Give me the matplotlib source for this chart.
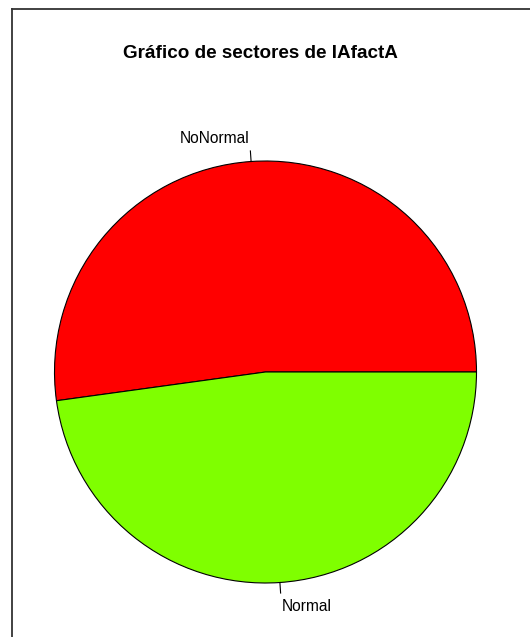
import matplotlib
matplotlib.use("Agg")
import matplotlib.pyplot as plt
import numpy as np
from matplotlib.lines import Line2D

categories = ["NoNormal", "Normal"]
counts = [12, 11]
colors = ["#FF0000", "#7FFF00"]
title = "Gráfico de sectores de IAfactA"

W, H = 530, 637
fig = plt.figure(figsize=(W / 100, H / 100), dpi=100)
plt.rcParams['font.family'] = ['Liberation Sans', 'DejaVu Sans']
ax = fig.add_axes([0, 0, 1, 1])
ax.set_xlim(0, W)
ax.set_ylim(0, H)
ax.axis("off")

cx, cy, r = 265.5, H - 372, 211
wedges, _ = ax.pie(counts, colors=colors, startangle=0, counterclock=True,
                   center=(cx, cy), radius=r, frame=True,
                   wedgeprops=dict(edgecolor="black", linewidth=0.8))
ax.set_xlim(0, W)
ax.set_ylim(0, H)
ax.set_aspect("equal")
ax.axis("off")

total = sum(counts)
start = 0.0
for lab, v in zip(categories, counts):
    mid = np.deg2rad((start + v / total * 360 / 2) if False else start + v / total * 180)
    start += v / total * 360
    ca, sa = np.cos(mid), np.sin(mid)
    ax.plot([cx + r * ca, cx + 1.05 * r * ca], [cy + r * sa, cy + 1.05 * r * sa],
            color="black", lw=0.8)
    ax.text(cx + 1.1 * r * ca, cy + 1.1 * r * sa - (3 if sa < 0 else -2), lab,
            ha="left" if ca > 0 else "right", va="center", fontsize=11.2)

fig.text(260.5 / W, 1 - 53 / H, title, ha="center", va="center",
         fontsize=13.6, fontweight="bold")

# border (partially cropped)
fig.add_artist(Line2D([11.5 / W, 1.0], [1 - 8.7 / H, 1 - 8.7 / H],
                      transform=fig.transFigure, color="#333333", lw=1.3))
fig.add_artist(Line2D([11.5 / W, 11.5 / W], [0, 1 - 8.7 / H],
                      transform=fig.transFigure, color="#333333", lw=1.3))

fig.savefig("out.png", dpi=100)
